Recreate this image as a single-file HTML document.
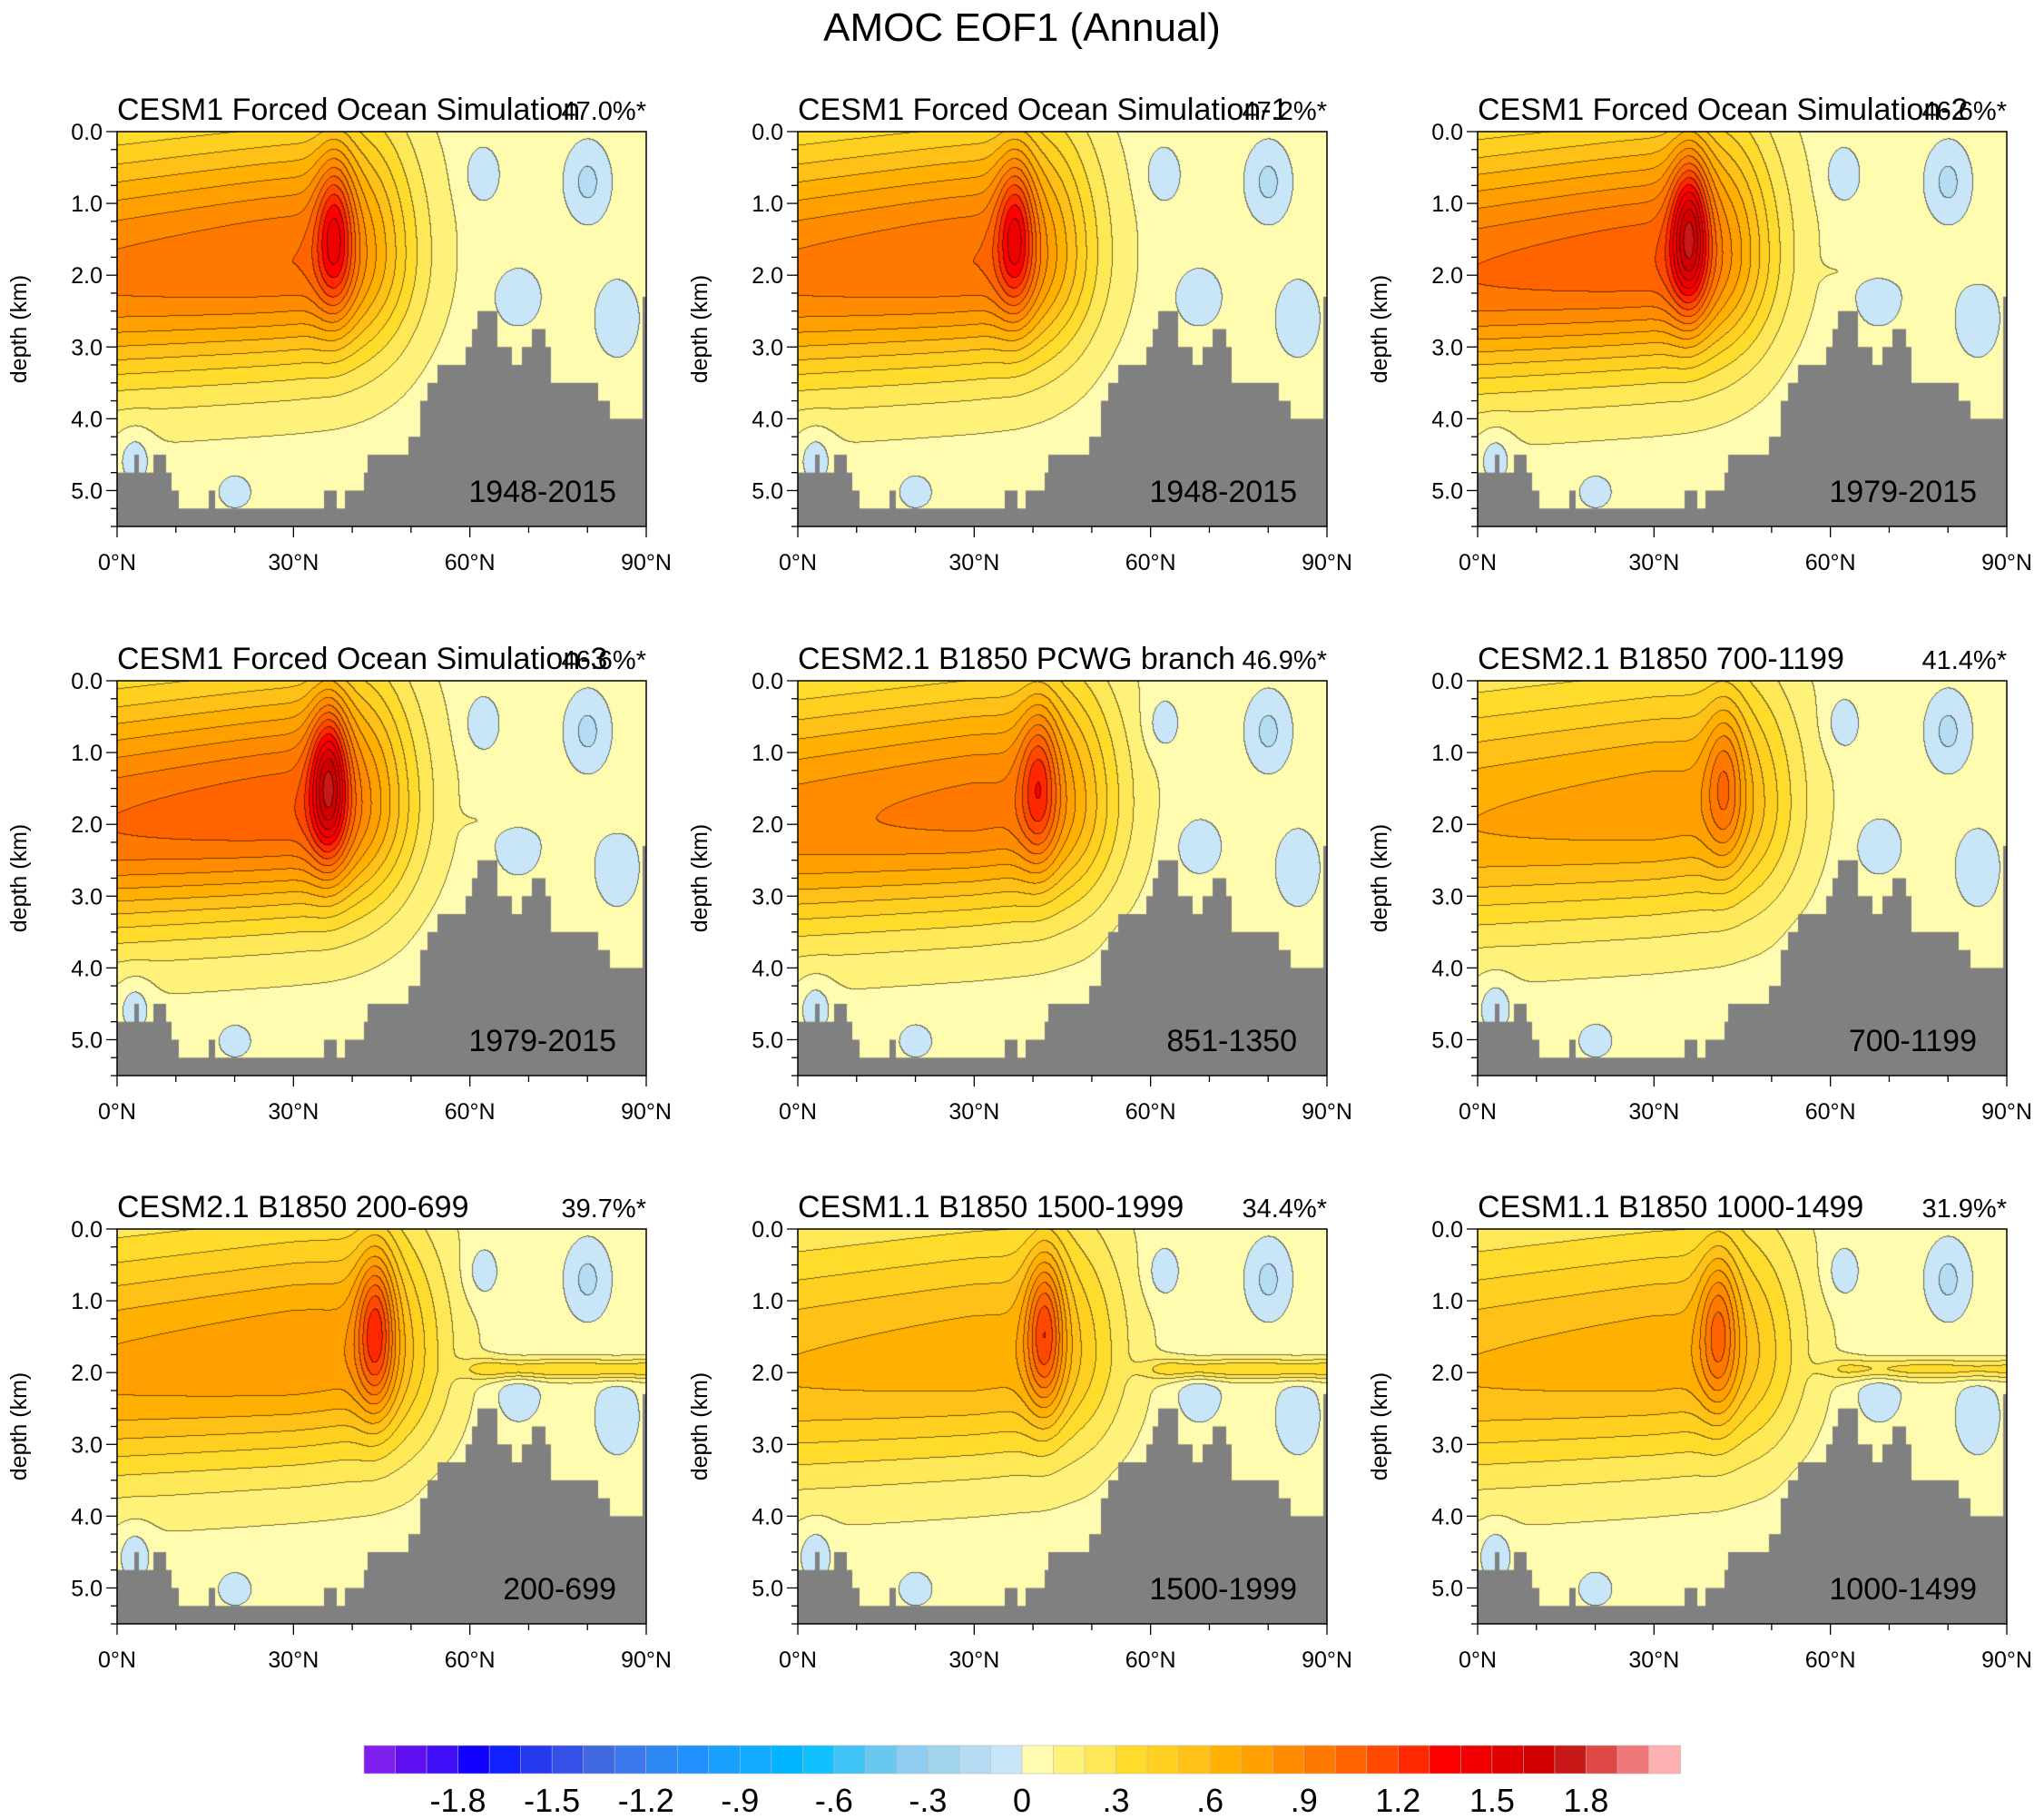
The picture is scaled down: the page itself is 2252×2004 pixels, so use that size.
<!DOCTYPE html>
<html><head><meta charset="utf-8">
<style>
body{margin:0;background:#fff;}
#wrap{position:relative;width:2252px;height:2004px;overflow:hidden;background:#fff;font-family:"Liberation Sans",sans-serif;}
canvas{position:absolute;}
svg{position:absolute;left:0;top:0;}
</style></head>
<body>
<div id="wrap">
<svg id="ax" width="2252" height="2004"></svg>
</div>
<script>
// ---- data ----
const titles=["CESM1 Forced Ocean Simulation","CESM1 Forced Ocean Simulation-1","CESM1 Forced Ocean Simulation-2","CESM1 Forced Ocean Simulation-3","CESM2.1 B1850 PCWG branch","CESM2.1 B1850 700-1199","CESM2.1 B1850 200-699","CESM1.1 B1850 1500-1999","CESM1.1 B1850 1000-1499"];
const pcts=["47.0%*","47.2%*","46.6%*","46.6%*","46.9%*","41.4%*","39.7%*","34.4%*","31.9%*"];
const years=["1948-2015","1948-2015","1979-2015","1979-2015","851-1350","700-1199","200-699","1500-1999","1000-1499"];
const broadAmp=[0.97,0.97,1.05,1.05,0.9,0.72,0.75,0.62,0.62];
const peakAmp=[0.55,0.55,0.75,0.75,0.45,0.35,0.6,0.6,0.45];
const peakLat=[37,37,36,36,41,42,44,42,41];
const broadEdge=[47,47,47,47,51,51,52,52,52];
const tongueAmp=[0,0,0.05,0.05,0,0,0.35,0.35,0.3];
const negBlobs=[[62,0.6,3,0.4,-0.13],[80,0.7,3.5,0.5,-0.17],[68,2.3,4,0.4,-0.12],[85,2.6,3.5,0.5,-0.13],[3,4.5,3,0.4,-0.13],[20,5.0,3,0.25,-0.11],[56,4.2,3,0.5,-0.13]];
const bathyLat=[0,3,3.5,6.3,8.3,9.1,10.4,15.6,16.4,35.2,37.2,38.9,42.1,42.7,49.7,51.7,52.9,54.5,59.3,60.4,61.4,64.6,67,68.9,70.6,72.7,73.7,81.6,83.7,89.5];
const bathyDepth=[4.75,4.5,4.75,4.5,4.75,5.0,5.25,5.0,5.25,5.0,5.25,5.0,4.75,4.5,4.25,3.75,3.5,3.25,3.0,2.75,2.5,3.0,3.25,3.0,2.75,3.0,3.5,3.75,4.0,2.3];
const cbColors=["#8020f0","#6010f0","#4010f8","#1000ff","#1020ff","#2438ee","#3450e8","#4068e0","#3a78ee","#2e88f4","#2090ff","#18a0ff","#10aaff","#00b4ff","#10c0ff","#40c4f8","#68c8f0","#90ccf0","#a0d4ec","#b4dcf2","#c8e6f8","#fffcb0","#fff27a","#ffe858","#ffdc2c","#ffd020","#ffc018","#ffb000","#ffa000","#ff8c00","#ff7800","#ff6400","#ff4800","#ff2800","#ff0000","#f00000","#e00000","#d00000","#c81818","#e04848","#f07878","#ffb0b0"];
const cbLabels=["-1.8","-1.5","-1.2","-.9","-.6","-.3","0",".3",".6",".9","1.2","1.5","1.8"];
const cbLabelVals=[-1.8,-1.5,-1.2,-0.9,-0.6,-0.3,0,0.3,0.6,0.9,1.2,1.5,1.8];
const latTicks=[0,30,60,90];
const depthTicks=[0,1,2,3,4,5];

// ---- layout ----
const W=583,H=435;
const colX=[129,879,1628], rowY=[145,750,1354];
const xOf=lat=>lat/90*W, yOf=d=>d/5.5*H;
const NS="http://www.w3.org/2000/svg";
const svg=document.getElementById('ax');
const wrap=document.getElementById('wrap');
function mk(tag,attrs,txt){const e=document.createElementNS(NS,tag);for(const k in attrs)e.setAttribute(k,attrs[k]);if(txt!==undefined)e.textContent=txt;svg.appendChild(e);return e;}
const rgb=cbColors.map(h=>[parseInt(h.slice(1,3),16),parseInt(h.slice(3,5),16),parseInt(h.slice(5,7),16)]);

function field(phi,z,p){
  const edge=1/(1+Math.exp((phi-broadEdge[p])/4));
  const ls=0.92+0.08*Math.min(phi,30)/30;
  const zc=2.0-0.3*Math.min(phi,45)/45;
  const sz=z<zc?1.9:1.45;
  let v=broadAmp[p]*edge*ls*Math.exp(-Math.pow((z-zc)/sz,2));
  v+=peakAmp[p]*Math.exp(-Math.pow((phi-peakLat[p])/3.2,2)-Math.pow((z-1.4)/1.1,2));
  v+=0.04;
  v+=tongueAmp[p]/(1+Math.exp(-(phi-60)/1.5))*Math.exp(-Math.pow((z-1.95)/0.15,2));
  for(const b of negBlobs) v+=b[4]*Math.exp(-Math.pow((phi-b[0])/b[2],2)-Math.pow((z-b[1])/b[3],2));
  return v;
}

mk('text',{x:1126,y:45,'font-size':44,'text-anchor':'middle',},"AMOC EOF1 (Annual)");

for(let p=0;p<9;p++){
  const px=colX[p%3], py=rowY[Math.floor(p/3)];
  const cv=document.createElement('canvas');
  cv.width=W;cv.height=H;cv.style.left=px+'px';cv.style.top=py+'px';
  
  
  wrap.insertBefore(cv,svg);
  const ctx=cv.getContext('2d');
  const img=ctx.createImageData(W,H);
  const idx=new Int16Array(W*H);
  for(let j=0;j<H;j++){const z=j/H*5.5;for(let i=0;i<W;i++){const phi=i/W*90;
    let k=Math.floor(field(phi,z,p)/0.1)+21;k=Math.max(0,Math.min(41,k));idx[j*W+i]=k;}}
  for(let j=0;j<H;j++)for(let i=0;i<W;i++){
    const o=j*W+i,k=idx[o];let c=rgb[k];
    let line=(i<W-1&&idx[o+1]!==k)||(j<H-1&&idx[o+W]!==k);
    const q=o*4;
    if(line){img.data[q]=c[0]*0.45;img.data[q+1]=c[1]*0.45;img.data[q+2]=c[2]*0.45;}
    else{img.data[q]=c[0];img.data[q+1]=c[1];img.data[q+2]=c[2];}
    img.data[q+3]=255;
  }
  ctx.putImageData(img,0,0);
  ctx.fillStyle='#808080';
  for(let b=0;b<bathyLat.length;b++){
    const l0=bathyLat[b],l1=b<bathyLat.length-1?bathyLat[b+1]:90;
    const x0=xOf(l0),x1=xOf(l1),y0=yOf(bathyDepth[b]);
    ctx.fillRect(Math.floor(x0),y0,Math.ceil(x1-x0)+1,H-y0);
  }
  mk('rect',{x:px,y:py,width:W,height:H,fill:'none',stroke:'#000','stroke-width':1.5,});
  for(let d=0;d<=5.5;d+=0.25){const major=Math.abs(d-Math.round(d))<1e-6;const y=py+yOf(d);
    mk('line',{x1:px,x2:px-(major?12:7),y1:y,y2:y,stroke:'#000','stroke-width':1.3,});}
  for(let l=0;l<=90;l+=10){const major=l%30===0;const x=px+xOf(l);
    mk('line',{x1:x,x2:x,y1:py+H,y2:py+H+(major?12:7),stroke:'#000','stroke-width':1.3,});}
  for(const d of depthTicks) mk('text',{x:px-16,y:py+yOf(d)+9,'font-size':25,'text-anchor':'end',},d.toFixed(1));
  for(const l of latTicks) mk('text',{x:px+xOf(l),y:py+H+48,'font-size':25,'text-anchor':'middle',},l+"°N");
  const cy=py+H/2;
  mk('text',{x:px-100,y:cy,'font-size':25,'text-anchor':'middle',transform:`rotate(-90 ${px-100} ${cy})`,},"depth (km)");
  mk('text',{x:px,y:py-13,'font-size':34,},titles[p]);
  mk('text',{x:px+W,y:py-13,'font-size':29,'text-anchor':'end',},pcts[p]);
  mk('text',{x:px+W-33,y:py+408,'font-size':34,'text-anchor':'end',},years[p]);
}
const cbX=401,cbW=1450,cbY=1923,cbH=31,bw=cbW/cbColors.length;
cbColors.forEach((c,i)=>{mk('rect',{x:cbX+i*bw,y:cbY,width:bw+0.5,height:cbH,fill:c,stroke:'#bbb','stroke-width':0.6,});});
const cbVal=v=>cbX+(v/0.1+21)*bw;
cbLabels.forEach((t,i)=>{mk('text',{x:cbVal(cbLabelVals[i]),y:1996,'font-size':36,'text-anchor':'middle',},t);});
</script>
</body></html>
